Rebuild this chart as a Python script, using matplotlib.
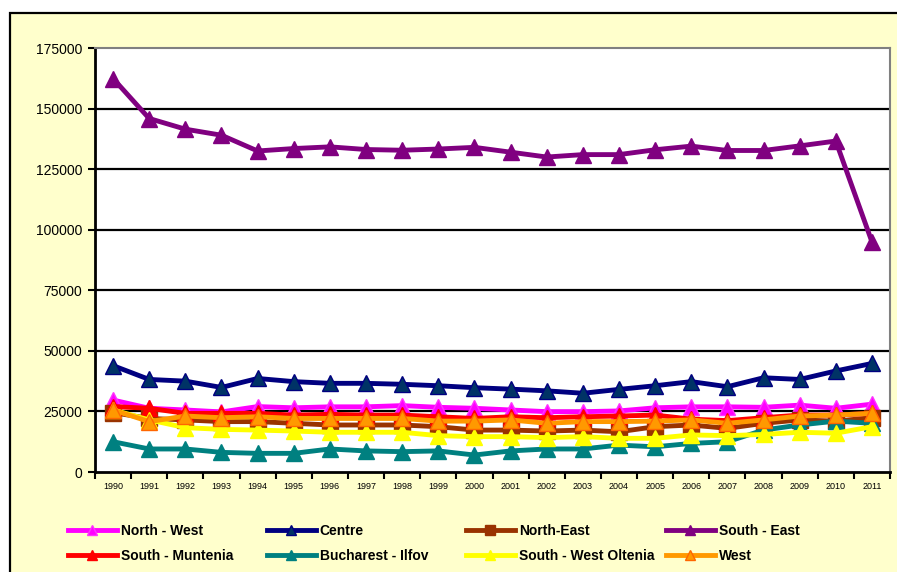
import matplotlib
matplotlib.use("Agg")
import matplotlib.pyplot as plt
from matplotlib.patches import Rectangle
from matplotlib.ticker import FixedLocator, NullFormatter, FixedFormatter

plt.rcParams['font.family'] = ['Liberation Sans', 'DejaVu Sans']

years = [str(y) for y in range(1990, 2012)]

north_west = [29700, 26300, 25600, 24800, 27000, 26500, 26900, 26900, 27400, 26700, 26300,
              25600, 24900, 24900, 25200, 26500, 26900, 26900, 26700, 27600, 26300, 28000]
centre = [43900, 38200, 37500, 34900, 38600, 37300, 36600, 36600, 36200, 35600, 34800,
          34200, 33500, 32500, 34100, 35600, 37300, 35200, 38900, 38200, 41700, 44800]
north_east = [24500, 22100, 21500, 20800, 20800, 20100, 19400, 19400, 19400, 18700, 17300,
              17300, 16900, 17300, 16600, 18700, 19400, 18000, 20100, 21500, 21000, 22400]
south_east = [162400, 145900, 141500, 139000, 132500, 133500, 134200, 133100, 132800, 133300, 134000,
              132000, 130000, 131000, 131000, 133000, 134500, 132700, 132700, 134600, 136600, 95000]
south_muntenia = [27000, 26300, 24200, 24200, 24200, 23500, 23800, 23500, 23500, 22800, 22100,
                  22800, 22400, 22800, 23100, 23500, 21800, 21200, 22400, 23500, 23500, 24200]
bucharest_ilfov = [12500, 9500, 9500, 8100, 7700, 7700, 9500, 8700, 8400, 8700, 7000,
                   8700, 9500, 9500, 11100, 10400, 11800, 12500, 17300, 19400, 21000, 20100]
south_west_oltenia = [25600, 21500, 18300, 17600, 17300, 16900, 16400, 16400, 16400, 15000, 14600,
                      14600, 14200, 14600, 13900, 13900, 15300, 15000, 15500, 16400, 16000, 18700]
west = [25600, 20800, 23100, 22400, 22800, 22100, 22100, 22100, 22100, 21000, 21000,
        21500, 20100, 20800, 20800, 21000, 21500, 20100, 21500, 23100, 23500, 24200]

y_ticks = [0, 25000, 50000, 75000, 100000, 125000, 150000, 175000]

series = [
    ("North - West", north_west, "#FF00FF", "^", "#FF00FF", "#FF33FF"),
    ("Centre", centre, "#000080", "^", "#003366", "#000080"),
    ("North-East", north_east, "#993300", "s", "#993300", "#993300"),
    ("South - East", south_east, "#800080", "^", "#800080", "#800080"),
    ("South - Muntenia", south_muntenia, "#FF0000", "^", "#FF0000", "#FF0000"),
    ("Bucharest - Ilfov", bucharest_ilfov, "#008080", "^", "#008080", "#008080"),
    ("South - West Oltenia", south_west_oltenia, "#FFFF00", "^", "#FFFF00", "#FFFF00"),
    ("West", west, "#FF9900", "^", "#FF9900", "#FF6600"),
]

W, H = 897, 572
fig = plt.figure(figsize=(W / 100, H / 100), dpi=100, facecolor="white")

# chart area background with black frame
fig.patches.append(Rectangle((10 / W, -0.05), 1.05, 1 - 13 / H + 0.05,
                             transform=fig.transFigure, facecolor="#FFFFCC",
                             edgecolor="black", linewidth=1.6, zorder=-5))

ax = fig.add_axes([95 / W, 1 - 472 / H, (890 - 95) / W, (472 - 48) / H])
ax.set_facecolor("white")

x = list(range(len(years)))
handles = {}
for name, vals, col, mk, mfc, mec in series:
    ln, = ax.plot(x, vals, color=col, linewidth=3.5, marker=mk, markersize=11,
                  markerfacecolor=mfc, markeredgecolor=mec, markeredgewidth=1.0,
                  label=name, zorder=3, clip_on=False)
    handles[name] = ln

ax.set_xlim(-0.5, len(years) - 0.5)
ax.set_ylim(0, 175000)

ax.yaxis.set_major_locator(FixedLocator(y_ticks))
ax.set_yticklabels([str(v) for v in y_ticks])
ax.tick_params(axis="y", direction="out", length=5, width=1.5, labelsize=10, pad=4)
for v in y_ticks[1:-1]:
    ax.axhline(v, color="black", linewidth=1.6, zorder=1)

ax.xaxis.set_major_locator(FixedLocator([i - 0.5 for i in range(len(years) + 1)]))
ax.xaxis.set_major_formatter(NullFormatter())
ax.xaxis.set_minor_locator(FixedLocator(x))
ax.xaxis.set_minor_formatter(FixedFormatter(years))
ax.tick_params(axis="x", which="major", direction="out", length=5, width=1.5)
ax.tick_params(axis="x", which="minor", length=0, labelsize=6.5, pad=7)

for side in ("left", "bottom"):
    ax.spines[side].set_color("black")
    ax.spines[side].set_linewidth(2)
for side in ("top", "right"):
    ax.spines[side].set_color("#808080")
    ax.spines[side].set_linewidth(1.5)

# legend: four fixed-width columns, two rows each
columns = [["North - West", "South - Muntenia"],
           ["Centre", "Bucharest - Ilfov"],
           ["North-East", "South - West Oltenia"],
           ["South - East", "West"]]
col_x = [68, 267, 466, 666]
for cx, names in zip(col_x, columns):
    fig.legend([handles[n] for n in names], names, loc="upper left",
               bbox_to_anchor=(cx / W, 1 - 524 / H), bbox_transform=fig.transFigure,
               frameon=False, ncol=1, borderpad=0, borderaxespad=0,
               handlelength=3.5, handletextpad=0.3, labelspacing=0.8,
               markerscale=0.7, prop={"weight": "bold", "size": 10})

fig.savefig("out.png", dpi=100, facecolor="white")
